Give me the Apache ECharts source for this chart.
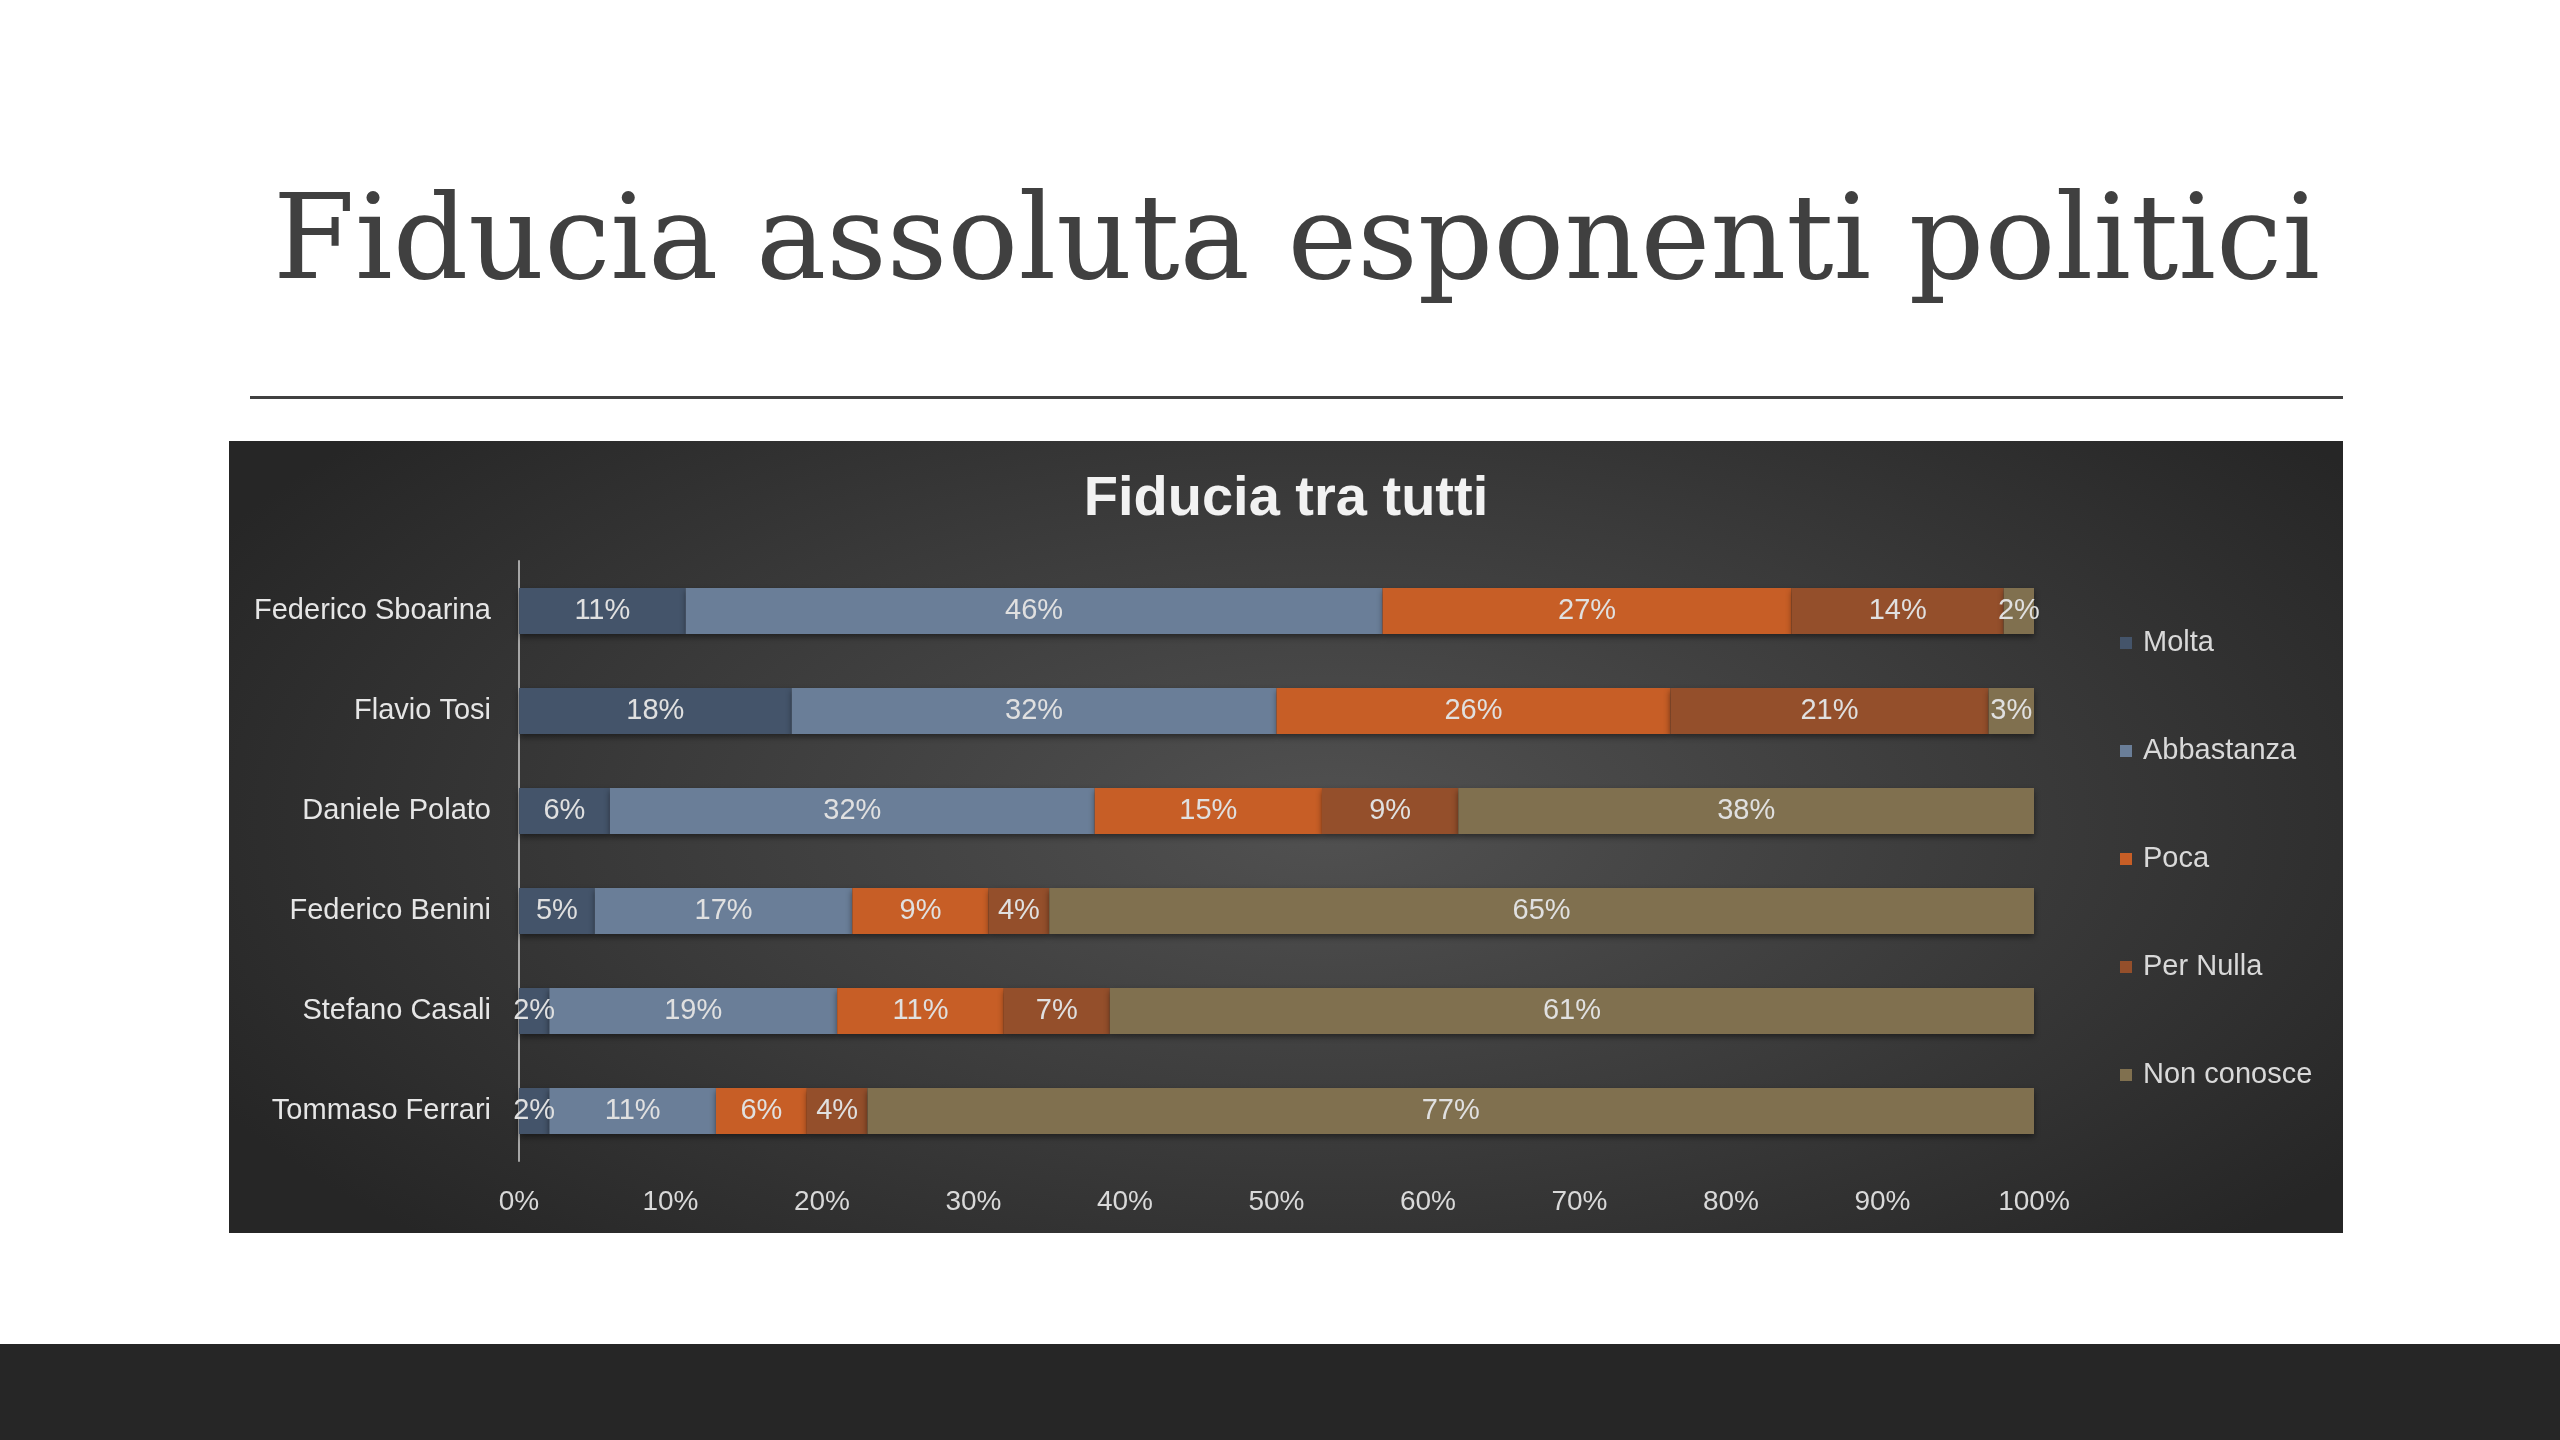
<!DOCTYPE html>
<html>
<head>
<meta charset="utf-8">
<script src="https://cdn.jsdelivr.net/npm/echarts@6/dist/echarts.min.js"></script>
<style>
  html, body { margin:0; padding:0; width:2560px; height:1440px; background:#ffffff; overflow:hidden; }
  #slideTitle { position:absolute; left:250px; width:2093px; top:178px; height:118px; line-height:118px;
    text-align:center; font-family:"DejaVu Serif", "Liberation Serif", serif; font-size:118px; color:#404040; white-space:nowrap; }
  #rule { position:absolute; left:250px; width:2093px; top:396px; height:3px; background:#404040; }
  #chartBox { position:absolute; left:229px; top:441px; width:2114px; height:792px;
    background: radial-gradient(ellipse 60% 75% at 52% 48%, #515151 0%, #3a3a3a 55%, #262626 100%); }
  #chart { width:2114px; height:792px; }
  #band { position:absolute; left:0; top:1344px; width:2560px; height:96px; background:#262626; }
</style>
</head>
<body>
<div id="slideTitle">Fiducia assoluta esponenti politici</div>
<div id="rule"></div>
<div id="chartBox"><div id="chart"></div></div>
<div id="band"></div>
<script>
// ---- data ----
const chartTitle = "Fiducia tra tutti";
const categories = ["Federico Sboarina", "Flavio Tosi", "Daniele Polato", "Federico Benini", "Stefano Casali", "Tommaso Ferrari"];
const seriesNames = ["Molta", "Abbastanza", "Poca", "Per Nulla", "Non conosce"];
const molta      = [11, 18, 6, 5, 2, 2];
const abbastanza = [46, 32, 32, 17, 19, 11];
const poca       = [27, 26, 15, 9, 11, 6];
const perNulla   = [14, 21, 9, 4, 7, 4];
const nonConosce = [2, 3, 38, 65, 61, 77];
const xTicks = [0, 10, 20, 30, 40, 50, 60, 70, 80, 90, 100];

const seriesValues = [molta, abbastanza, poca, perNulla, nonConosce];
const colors = ["#44546A", "#6A7E98", "#C75E26", "#944F2B", "#80704F"];
const font = '"Liberation Sans", Arial, sans-serif';

const chart = echarts.init(document.getElementById('chart'), null, {renderer: 'canvas'});
chart.setOption({
  backgroundColor: 'transparent',
  animation: false,
  title: {
    text: chartTitle, left: 'center', top: 26,
    textStyle: { color: '#f2f2f2', fontSize: 56, fontWeight: 'bold', fontFamily: font }
  },
  color: colors,
  legend: {
    orient: 'vertical', left: 1886, top: 182,
    itemWidth: 12, itemHeight: 12, itemGap: 78, icon: 'rect',
    textStyle: { color: '#d9d9d9', fontSize: 29, fontFamily: font, lineHeight: 30, padding: [0,0,0,6] },
    data: seriesNames
  },
  grid: { left: 290, right: 309, top: 120, height: 600, containLabel: false },
  xAxis: {
    type: 'value', min: 0, max: xTicks[xTicks.length-1], interval: 10,
    axisLine: { show: false }, axisTick: { show: false }, splitLine: { show: false },
    axisLabel: { color: '#d9d9d9', fontSize: 28, fontFamily: font, margin: 27, formatter: v => v + '%' }
  },
  yAxis: {
    type: 'category', data: categories, inverse: true,
    axisLine: { show: true, lineStyle: { color: '#a6a6a6', width: 2 } },
    axisTick: { show: false },
    axisLabel: { color: '#e6e6e6', fontSize: 29, fontFamily: font, margin: 28 }
  },
  series: seriesNames.map((name, i) => ({
    name: name, type: 'bar', stack: 'total', barWidth: '46%',
    data: seriesValues[i],
    itemStyle: { color: colors[i], shadowColor: 'rgba(0,0,0,0.45)', shadowBlur: 6, shadowOffsetY: 3 },
    label: { show: true, position: 'inside', color: '#e0e0e0', fontSize: 29, fontFamily: font,
      formatter: p => p.value + '%' }
  }))
});
</script>
</body>
</html>
